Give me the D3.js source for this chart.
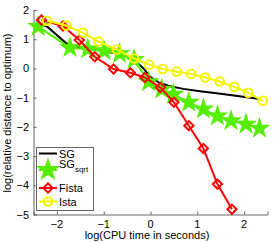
<!DOCTYPE html>
<html>
<head>
<meta charset="utf-8">
<script src="https://cdn.jsdelivr.net/npm/d3@7"></script>
<style>
  body { margin: 0; background: #fff; }
  text { font-family: "Liberation Sans", Arial, sans-serif; }
</style>
</head>
<body>
<script>
let width = 274, height = 242

// data (log CPU time, log relative distance)
let sgX = [-2.38, -2.2, -1.8, -1.5, -1.1, -0.7, -0.45, -0.3, -0.15, 0.0, 0.2, 0.4, 0.7, 1.1, 1.5, 1.9, 2.33]
let sgY = [1.55, 1.42, 0.86, 0.72, 0.62, 0.5, 0.38, 0.22, 0.0, -0.3, -0.5, -0.6, -0.7, -0.79, -0.87, -0.95, -1.05]
let sqrtX = [-2.4, -1.72, -1.34, -0.99, -0.66, -0.35, -0.04, 0.24, 0.49, 0.82, 1.13, 1.43, 1.72, 2.04, 2.33]
let sqrtY = [1.43, 0.71, 0.66, 0.6, 0.51, 0.3, -0.46, -0.72, -0.89, -1.16, -1.39, -1.63, -1.79, -1.91, -2.05]
let fistaX = [-2.33, -1.87, -1.52, -1.19, -0.79, -0.43, -0.12, 0.21, 0.5, 0.82, 1.13, 1.43, 1.74]
let fistaY = [1.66, 1.45, 0.97, 0.4, -0.02, -0.15, -0.31, -0.65, -1.16, -1.96, -2.74, -3.96, -4.82]
let istaX = [-2.21, -1.8, -1.44, -1.11, -0.72, -0.35, -0.03, 0.26, 0.56, 0.87, 1.17, 1.48, 1.79, 2.09, 2.4]
let istaY = [1.63, 1.47, 1.22, 0.92, 0.65, 0.34, 0.13, -0.02, -0.11, -0.19, -0.31, -0.45, -0.63, -0.83, -1.11]

let xTicks = [-2, -1, 0, 1, 2]
let yTicks = [-5, -4, -3, -2, -1, 0, 1, 2]
let seriesNames = ['SG', 'SG', 'Fista', 'Ista']

let svg = d3.select('body').append('svg')
  .attr('width', width)
  .attr('height', height)

let x = d3.scaleLinear().domain([-2.5, 2.5]).range([33.5, 267.5])
let y = d3.scaleLinear().domain([-5, 2]).range([214.5, 10])

let axisColor = '#666'
let fmt = d => d < 0 ? '\u2212' + Math.abs(d) : '' + d

// axes, ticks pointing inward like matlab
let gx = svg.append('g').attr('transform', 'translate(0,214.5)')
  .call(d3.axisTop(x).tickValues(xTicks).tickSize(3).tickFormat(''))
let gy = svg.append('g').attr('transform', 'translate(33.5,0)')
  .call(d3.axisRight(y).tickValues(yTicks).tickSize(3).tickFormat(''))
svg.selectAll('.domain').attr('stroke', axisColor)
svg.selectAll('.tick line').attr('stroke', axisColor)

svg.selectAll('.xlab').data(xTicks).enter().append('text')
  .attr('x', d => x(d))
  .attr('y', 228)
  .attr('text-anchor', 'middle')
  .attr('font-size', 11)
  .text(fmt)

svg.selectAll('.ylab').data(yTicks).enter().append('text')
  .attr('x', 29)
  .attr('y', d => y(d) + 4)
  .attr('text-anchor', 'end')
  .attr('font-size', 11)
  .text(fmt)

svg.append('text')
  .attr('x', 147).attr('y', 239)
  .attr('text-anchor', 'middle')
  .attr('font-size', 11)
  .text('log(CPU time in seconds)')

svg.append('text')
  .attr('transform', 'translate(11,113) rotate(-90)')
  .attr('text-anchor', 'middle')
  .attr('font-size', 11)
  .text('log(relative distance to optimum)')

let line = d3.line().x(d => x(d[0])).y(d => y(d[1]))
let pts = (xs, ys) => xs.map((v, i) => [v, ys[i]])

let star = d3.symbol().type(d3.symbolStar).size(95)
// matlab style diamond: square turned 45 degrees
let diamond = r => 'M0,' + (-r) + 'L' + r + ',0L0,' + r + 'L' + (-r) + ',0Z'

let green = '#55ee00', red = '#ff0000', yellow = '#f5f500'

// SG
svg.append('path').attr('d', line(pts(sgX, sgY)))
  .attr('fill', 'none').attr('stroke', 'black').attr('stroke-width', 2)

// SG sqrt
svg.append('path').attr('d', line(pts(sqrtX, sqrtY)))
  .attr('fill', 'none').attr('stroke', green).attr('stroke-width', 2)
svg.selectAll('.star').data(pts(sqrtX, sqrtY)).enter().append('path')
  .attr('d', star)
  .attr('transform', d => 'translate(' + x(d[0]) + ',' + y(d[1]) + ')')
  .attr('fill', green).attr('stroke', green).attr('stroke-width', 1.5)

// Fista
svg.append('path').attr('d', line(pts(fistaX, fistaY)))
  .attr('fill', 'none').attr('stroke', red).attr('stroke-width', 2)
svg.selectAll('.dia').data(pts(fistaX, fistaY)).enter().append('path')
  .attr('d', diamond(4.6))
  .attr('transform', d => 'translate(' + x(d[0]) + ',' + y(d[1]) + ')')
  .attr('fill', 'none').attr('stroke', red).attr('stroke-width', 2)

// Ista
svg.append('path').attr('d', line(pts(istaX, istaY)))
  .attr('fill', 'none').attr('stroke', yellow).attr('stroke-width', 2)
svg.selectAll('.circ').data(pts(istaX, istaY)).enter().append('circle')
  .attr('cx', d => x(d[0])).attr('cy', d => y(d[1])).attr('r', 4.3)
  .attr('fill', 'none').attr('stroke', yellow).attr('stroke-width', 2)

// legend
let lg = svg.append('g')
lg.append('rect').attr('x', 36.5).attr('y', 147.5).attr('width', 57).attr('height', 63)
  .attr('fill', 'white').attr('stroke', axisColor).attr('stroke-width', 1)

let rows = [153.5, 170, 188, 201.5]
let colors = ['black', green, red, yellow]
rows.forEach((ry, i) => {
  lg.append('line').attr('x1', 39).attr('x2', 57).attr('y1', ry).attr('y2', ry)
    .attr('stroke', colors[i]).attr('stroke-width', 2)
})
lg.append('path').attr('d', d3.symbol().type(d3.symbolStar).size(120))
  .attr('transform', 'translate(48,' + rows[1] + ')')
  .attr('fill', green).attr('stroke', green).attr('stroke-width', 1.5)
lg.append('path').attr('d', diamond(4.6))
  .attr('transform', 'translate(48,' + rows[2] + ')')
  .attr('fill', 'none').attr('stroke', red).attr('stroke-width', 2)
lg.append('circle').attr('cx', 48).attr('cy', rows[3]).attr('r', 4.3)
  .attr('fill', 'none').attr('stroke', yellow).attr('stroke-width', 2)

lg.append('text').attr('x', 59).attr('y', 157.5).attr('font-size', 11).text(seriesNames[0])
let t1 = lg.append('text').attr('x', 59).attr('y', 168).attr('font-size', 11).text(seriesNames[1])
t1.append('tspan').attr('dy', 4).attr('font-size', 8).text('sqrt')
lg.append('text').attr('x', 59).attr('y', 192).attr('font-size', 11).text(seriesNames[2])
lg.append('text').attr('x', 59).attr('y', 205.5).attr('font-size', 11).text(seriesNames[3])
</script>
</body>
</html>
